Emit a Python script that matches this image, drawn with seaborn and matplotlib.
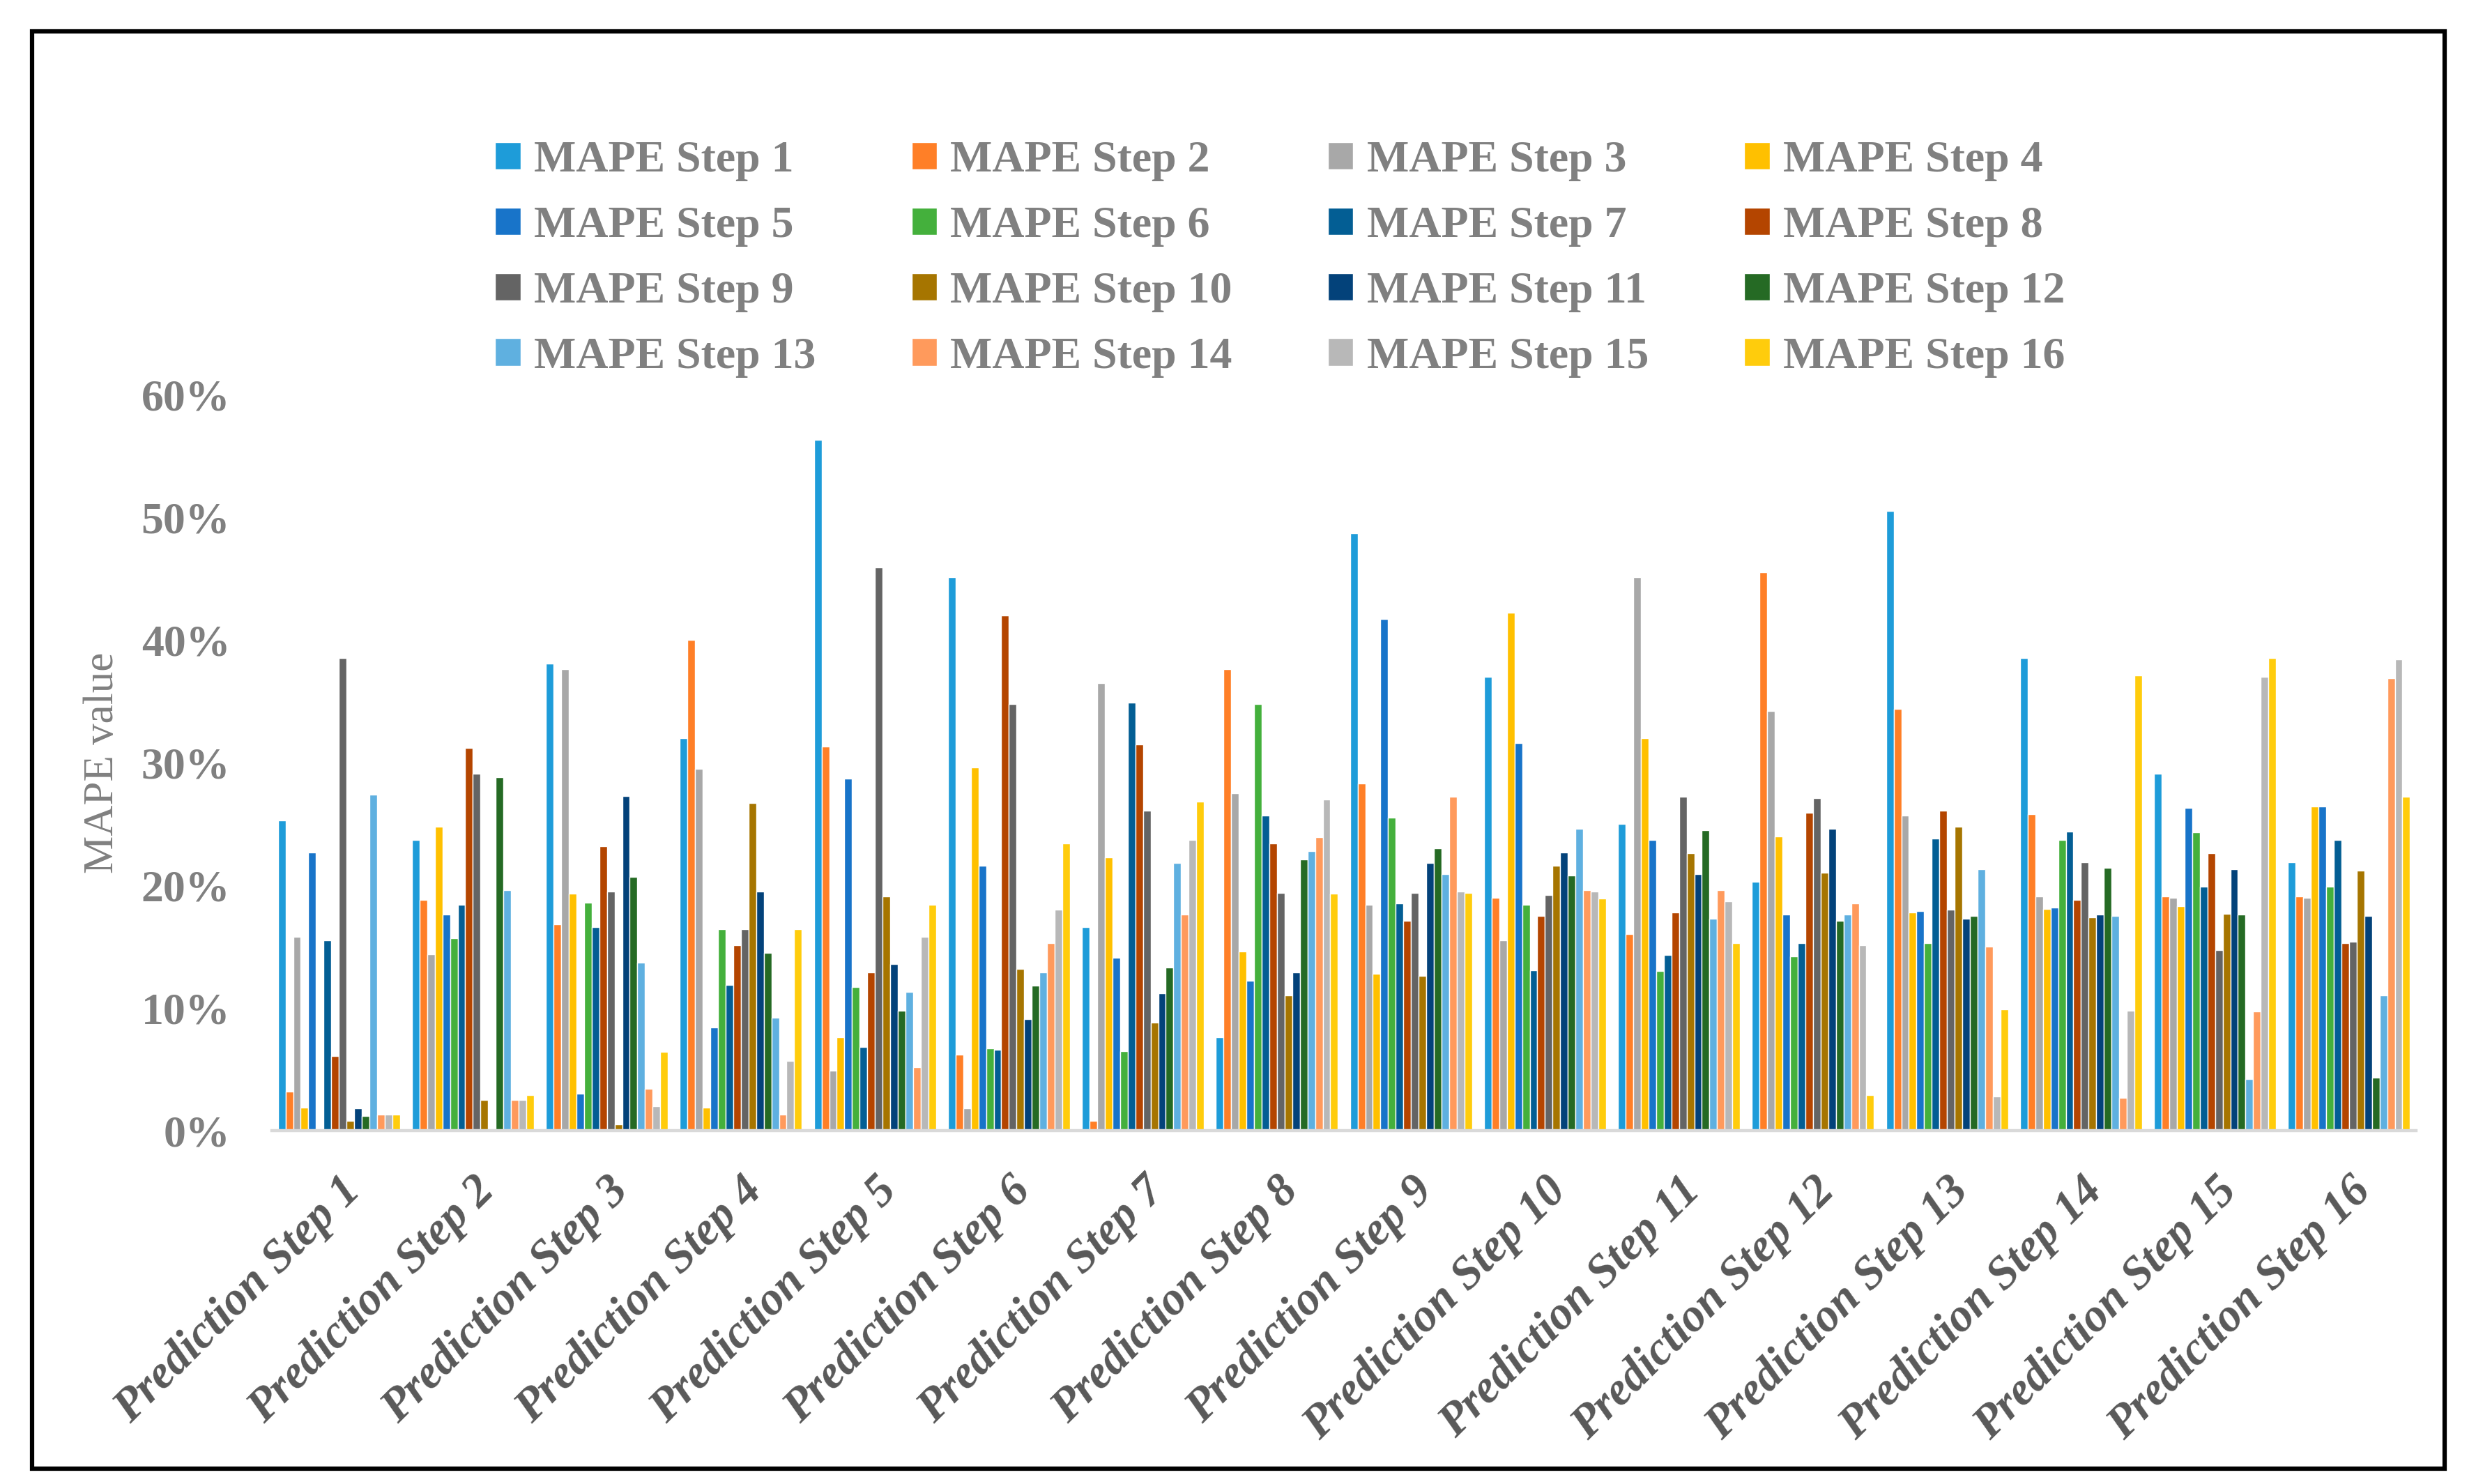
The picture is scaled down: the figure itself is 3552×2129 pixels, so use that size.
import numpy as np
import pandas as pd
import matplotlib
matplotlib.use('Agg')
import matplotlib.pyplot as plt
from matplotlib.patches import Rectangle
from matplotlib.ticker import PercentFormatter
import seaborn as sns

# categories
groups = ['Prediction Step %d' % i for i in range(1, 17)]
series = ['MAPE Step %d' % i for i in range(1, 17)]

colors = ['#1E9CD9', '#FF7F27', '#A8A8A8', '#FFC000', '#1874C9', '#44B03C',
          '#035E94', '#B44500', '#646464', '#A67500', '#03427A', '#256A24',
          '#5FB0E0', '#FF9A5C', '#B8B8B8', '#FFCC0C']

# MAPE values (%) per prediction step, one value per MAPE step series
pred_step_1 = [25.3, 3.2, 15.8, 1.9, 22.7, 0.2, 15.5, 6.1, 38.5, 0.8, 1.8, 1.2, 27.4, 1.3, 1.3, 1.3]
pred_step_2 = [23.7, 18.8, 14.4, 24.8, 17.6, 15.7, 18.4, 31.2, 29.1, 2.5, 0.0, 28.8, 19.6, 2.5, 2.5, 2.9]
pred_step_3 = [38.1, 16.8, 37.6, 19.3, 3.0, 18.6, 16.6, 23.2, 19.5, 0.5, 27.3, 20.7, 13.7, 3.4, 2.0, 6.4]
pred_step_4 = [32.0, 40.0, 29.5, 1.9, 8.4, 16.4, 11.9, 15.1, 16.4, 26.7, 19.5, 14.5, 9.2, 1.3, 5.7, 16.4]
pred_step_5 = [56.3, 31.3, 4.9, 7.6, 28.7, 11.7, 6.8, 12.9, 45.9, 19.1, 13.6, 9.8, 11.3, 5.2, 15.8, 18.4]
pred_step_6 = [45.1, 6.2, 1.8, 29.6, 21.6, 6.7, 6.6, 42.0, 34.8, 13.2, 9.1, 11.8, 12.9, 15.3, 18.0, 23.4]
pred_step_7 = [16.6, 0.8, 36.5, 22.3, 14.1, 6.5, 34.9, 31.5, 26.1, 8.8, 11.2, 13.3, 21.8, 17.6, 23.7, 26.8]
pred_step_8 = [7.6, 37.6, 27.5, 14.6, 12.2, 34.8, 25.7, 23.4, 19.4, 11.0, 12.9, 22.1, 22.8, 23.9, 27.0, 19.3]
pred_step_9 = [48.7, 28.3, 18.4, 12.8, 41.7, 25.5, 18.5, 17.1, 19.4, 12.6, 21.8, 23.0, 20.9, 27.2, 19.5, 19.4]
pred_step_10 = [37.0, 19.0, 15.5, 42.2, 31.6, 18.4, 13.1, 17.5, 19.2, 21.6, 22.7, 20.8, 24.6, 19.6, 19.5, 18.9]
pred_step_11 = [25.0, 16.0, 45.1, 32.0, 23.7, 13.0, 14.3, 17.8, 27.2, 22.6, 20.9, 24.5, 17.3, 19.6, 18.7, 15.3]
pred_step_12 = [20.3, 45.5, 34.2, 24.0, 17.6, 14.2, 15.3, 25.9, 27.1, 21.0, 24.6, 17.1, 17.6, 18.5, 15.1, 2.9]
pred_step_13 = [50.5, 34.4, 25.7, 17.8, 17.9, 15.3, 23.8, 26.1, 18.0, 24.8, 17.3, 17.5, 21.3, 15.0, 2.8, 9.9]
pred_step_14 = [38.5, 25.8, 19.1, 18.1, 18.2, 23.7, 24.4, 18.8, 21.9, 17.4, 17.6, 21.4, 17.5, 2.7, 9.8, 37.1]
pred_step_15 = [29.1, 19.1, 19.0, 18.3, 26.3, 24.3, 19.9, 22.6, 14.7, 17.7, 21.3, 17.6, 4.2, 9.7, 37.0, 38.5]
pred_step_16 = [21.9, 19.1, 19.0, 26.4, 26.4, 19.9, 23.7, 15.3, 15.4, 21.2, 17.5, 4.3, 11.0, 36.9, 38.4, 27.2]

all_steps = [pred_step_1, pred_step_2, pred_step_3, pred_step_4, pred_step_5, pred_step_6,
             pred_step_7, pred_step_8, pred_step_9, pred_step_10, pred_step_11, pred_step_12,
             pred_step_13, pred_step_14, pred_step_15, pred_step_16]

rows = []
for g, vals in zip(groups, all_steps):
    for s, v in zip(series, vals):
        rows.append({'group': g, 'series': s, 'value': v / 100})
df = pd.DataFrame(rows)

sns.set_style('white')
plt.rcParams['font.family'] = ['Liberation Serif', 'DejaVu Serif']

fig = plt.figure(figsize=(35.52, 21.29), dpi=100)
ax = fig.add_axes([0.1098, 0.2381, 0.8660, 0.4960])

sns.barplot(data=df, x='group', y='value', hue='series', palette=colors,
            order=groups, hue_order=series, width=0.91, saturation=1,
            edgecolor='white', linewidth=1.0, ax=ax)

handles, labels = ax.get_legend_handles_labels()
ax.get_legend().remove()

ax.set_ylim(0, 0.6)
ax.set_yticks(np.arange(0, 0.61, 0.1))
ax.yaxis.set_major_formatter(PercentFormatter(1.0, decimals=0))
ax.set_xlim(-0.5, 15.5)
ax.set_xlabel('')
ax.set_ylabel('MAPE value', fontsize=44, color='#808080')
ax.yaxis.set_label_coords(-0.070, 0.5)

for sp in ['top', 'right', 'left']:
    ax.spines[sp].set_visible(False)
ax.spines['bottom'].set_color('#D9D9D9')
ax.spines['bottom'].set_linewidth(3.2)

ax.tick_params(axis='y', length=0, pad=43, labelsize=46, labelcolor='#808080')
for t in ax.get_yticklabels():
    t.set_fontweight('bold')

ax.set_xticks(np.arange(-0.5, 16, 1), minor=True)
ax.tick_params(axis='x', which='minor', length=15, width=3.2, color='#D9D9D9', direction='out')
ax.tick_params(axis='x', which='major', length=0, pad=40)
ax.set_xticklabels(groups, rotation=45, ha='right', rotation_mode='anchor',
                   fontsize=48, fontstyle='italic', fontweight='bold', color='#595959')

# legend in row order, 4 columns
order = [r * 4 + c for c in range(4) for r in range(4)]
fig.legend([handles[i] for i in order], [labels[i] for i in order],
           ncol=4, loc='upper left', bbox_to_anchor=(0.200, 0.905),
           frameon=False, borderpad=0, borderaxespad=0,
           prop={'family': 'Liberation Serif', 'weight': 'bold', 'size': 46},
           labelcolor='#808080', handlelength=0.57, handleheight=0.57,
           handletextpad=0.3, columnspacing=2.15, labelspacing=0.56)

fig.add_artist(Rectangle((46 / 3552, 1 - 2107 / 2129), (3507 - 46) / 3552, (2107 - 45) / 2129,
                         transform=fig.transFigure, fill=False, edgecolor='black', linewidth=4.5))

plt.savefig('out.png', dpi=100)
